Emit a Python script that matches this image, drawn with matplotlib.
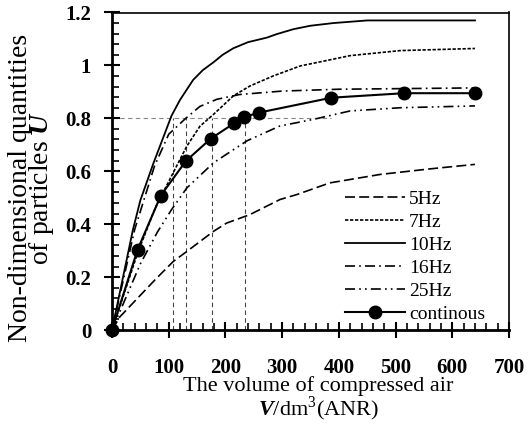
import matplotlib
matplotlib.use("Agg")
import matplotlib.pyplot as plt
from matplotlib.ticker import MultipleLocator

plt.rcParams['font.family'] = ['Liberation Serif', 'DejaVu Serif']
plt.rcParams['mathtext.fontset'] = 'custom'
plt.rcParams['mathtext.rm'] = 'Liberation Serif'
plt.rcParams['mathtext.bfit'] = 'Liberation Serif:bold:italic'

# ---- data ----
x5 = [0, 14, 76, 108, 132, 179, 202, 243, 296, 326, 384, 473, 561, 640]
y5 = [0, 0.05, 0.19, 0.259, 0.297, 0.373, 0.404, 0.436, 0.493, 0.512, 0.556, 0.588, 0.609, 0.626]

x7 = [0, 45, 76, 114, 132, 155, 179, 214, 243, 284, 332, 420, 508, 640]
y7 = [0, 0.29, 0.46, 0.62, 0.695, 0.77, 0.815, 0.885, 0.922, 0.96, 0.998, 1.037, 1.056, 1.064]

x10 = [0, 37, 50, 73, 105, 120, 143, 160, 179, 195, 214, 240, 273, 290, 320, 350, 390, 420, 450, 640]
y10 = [0, 0.38, 0.49, 0.63, 0.81, 0.87, 0.945, 0.982, 1.012, 1.04, 1.065, 1.088, 1.105, 1.118, 1.137,
       1.15, 1.16, 1.165, 1.17, 1.17]

x16 = [0, 40, 75, 100, 130, 155, 185, 225, 300, 400, 640]
y16 = [0, 0.38, 0.62, 0.74, 0.80, 0.845, 0.872, 0.89, 0.903, 0.91, 0.915]

x25 = [0, 50, 80, 105, 132, 179, 238, 296, 355, 420, 508, 640]
y25 = [0, 0.25, 0.37, 0.455, 0.537, 0.632, 0.715, 0.771, 0.796, 0.828, 0.840, 0.847]

xc = [0, 45, 86, 130, 174, 215, 233, 260, 387, 515, 640]
yc = [0, 0.303, 0.508, 0.638, 0.723, 0.781, 0.805, 0.822, 0.878, 0.895, 0.895]

ref_level = 0.8
ref_x = [108, 130, 177, 235]
ref_hend = 387

xticks = [0, 100, 200, 300, 400, 500, 600, 700]
yticks = [0, 0.2, 0.4, 0.6, 0.8, 1.0, 1.2]
ytick_labels = ['0', '0.2', '0.4', '0.6', '0.8', '1', '1.2']

W, H = 529, 430
fig = plt.figure(figsize=(W / 100, H / 100), dpi=100)
ax = fig.add_axes([112 / W, 1 - 330 / H, (509 - 112) / W, (330 - 12.5) / H])

# reference dashed lines
ax.plot([0, ref_hend], [ref_level, ref_level], color='#888888', lw=0.8, ls=(0, (4, 3)), zorder=1)
for xv in ref_x:
    ax.plot([xv, xv], [0, ref_level], color='#444444', lw=0.8, ls=(0, (4, 3)), zorder=1)

ax.plot(x5, y5, color='black', lw=1.2, ls=(0, (6, 2.5)), label='5Hz')
ax.plot(x7, y7, color='black', lw=1.2, ls=(0, (2, 1)), label='7Hz')
ax.plot(x10, y10, color='black', lw=1.3, ls='-', label='10Hz')
ax.plot(x16, y16, color='black', lw=1.2, ls=(0, (6, 2.5, 1, 2.5)), label='16Hz')
ax.plot(x25, y25, color='black', lw=1.2, ls=(0, (6, 2.5, 1, 2.5, 1, 2.5)), label='25Hz')
ax.plot(xc, yc, color='black', lw=1.5, ls='-', marker='o', markersize=9, label='continous',
        clip_on=False, zorder=5)

ax.set_xlim(0, 700)
ax.set_ylim(0, 1.2)
ax.set_xticks(xticks)
ax.set_yticks(yticks)
ax.set_yticklabels(ytick_labels)
ax.xaxis.set_minor_locator(MultipleLocator(20))
ax.yaxis.set_minor_locator(MultipleLocator(0.04))
ax.tick_params(which='major', direction='inout', length=12, width=1.5, labelsize=15)
ax.tick_params(axis='x', which='major', pad=14)
ax.tick_params(axis='y', which='major', pad=9)
ax.tick_params(which='minor', direction='in', length=5, width=1.2)
ax.tick_params(top=False, right=False, which='both')
for lab in ax.get_xticklabels() + ax.get_yticklabels():
    lab.set_fontweight('bold')
for s in ax.spines.values():
    s.set_linewidth(1.2)
ax.spines['left'].set_linewidth(2)
ax.spines['bottom'].set_linewidth(2)

leg = ax.legend(loc='upper left', bbox_to_anchor=(345 / W, 1 - 190 / H), bbox_transform=fig.transFigure,
                frameon=False, fontsize=14, handlelength=3.1, handletextpad=0.2, labelspacing=0.28,
                borderpad=0, borderaxespad=0)

fig.text(32 / W, 1 - 188 / H, 'Non-dimensional quantities\n' + r'of particles $\boldsymbol{U}$',
         rotation=90, fontsize=20, ha='center', va='center', linespacing=0.72, multialignment='center')
fig.text(318 / W, 1 - 376 / H, 'The volume of compressed air\n' + r'$\boldsymbol{V}$/dm$^3$(ANR)',
         fontsize=16, ha='center', va='top', linespacing=0.95, multialignment='center')

fig.savefig('out.png', dpi=100)
